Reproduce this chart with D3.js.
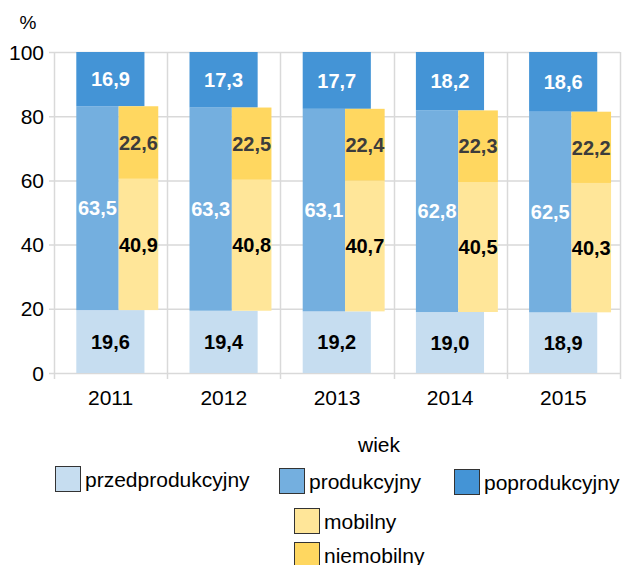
<!DOCTYPE html>
<html>
<head>
<meta charset="utf-8">
<script src="https://cdn.jsdelivr.net/npm/d3@7"></script>
<style>
    body { margin: 0; background: #fff; }
    text { font-family: "Liberation Sans", Arial, sans-serif; }
</style>
</head>
<body>
<div id="chart"></div>
<script>
"use strict";
(function () {
    // data
    const years = ["2011", "2012", "2013", "2014", "2015"]
    const przedprodukcyjny = [19.6, 19.4, 19.2, 19.0, 18.9]
    const produkcyjny = [63.5, 63.3, 63.1, 62.8, 62.5]
    const poprodukcyjny = [16.9, 17.3, 17.7, 18.2, 18.6]
    const mobilny = [40.9, 40.8, 40.7, 40.5, 40.3]
    const niemobilny = [22.6, 22.5, 22.4, 22.3, 22.2]
    const yTicks = [0, 20, 40, 60, 80, 100]

    const colors = {
        przed: "#c6ddf0",
        prod: "#74afdf",
        poprod: "#4494d6",
        mob: "#ffe699",
        niemob: "#ffd760"
    }

    const measurements = { width: 622, height: 565, left: 54, right: 620, top: 52, bottom: 373 }

    const svg = d3.select("#chart").append("svg")
        .attr("width", measurements.width)
        .attr("height", measurements.height)

    const scaleX = d3.scaleBand()
        .domain(years)
        .range([measurements.left, measurements.right])
        .padding(0)

    const scaleY = d3.scaleLinear()
        .domain([0, 100])
        .range([measurements.bottom, measurements.top])

    // gridlines
    svg.append("g")
        .selectAll("line")
        .data(yTicks)
        .enter()
        .append("line")
        .attr("x1", measurements.left - 5)
        .attr("x2", measurements.right)
        .attr("y1", d => scaleY(d) + 0.5)
        .attr("y2", d => scaleY(d) + 0.5)
        .attr("stroke", "#d9d9d9")
        .attr("stroke-width", 1.5)

    const bounds = years.map(y => scaleX(y)).concat([measurements.right])
    svg.append("g")
        .selectAll("line")
        .data(bounds)
        .enter()
        .append("line")
        .attr("x1", d => Math.round(d) + 0.5)
        .attr("x2", d => Math.round(d) + 0.5)
        .attr("y1", measurements.top)
        .attr("y2", measurements.bottom + 6)
        .attr("stroke", "#d9d9d9")
        .attr("stroke-width", 1.5)

    // bar pieces as fractions of the band
    const bw = scaleX.bandwidth()
    const outer = [0.197, 0.799]
    const inner = [0.197, 0.571]
    const side = [0.571, 0.921]

    const rows = years.map((y, i) => ({
        year: y,
        przed: przedprodukcyjny[i],
        prod: produkcyjny[i],
        poprod: poprodukcyjny[i],
        mob: mobilny[i],
        niemob: niemobilny[i]
    }))

    function addRect(d, from, to, part, color) {
        svg.append("rect")
            .attr("x", scaleX(d.year) + part[0] * bw)
            .attr("width", (part[1] - part[0]) * bw)
            .attr("y", scaleY(to))
            .attr("height", scaleY(from) - scaleY(to))
            .attr("fill", color)
    }

    function addLabel(d, from, to, part, color) {
        svg.append("text")
            .attr("x", scaleX(d.year) + (part[0] + part[1]) / 2 * bw)
            .attr("y", scaleY((from + to) / 2))
            .attr("dy", "0.36em")
            .attr("text-anchor", "middle")
            .style("font-size", "20px")
            .style("font-weight", "bold")
            .attr("fill", color)
            .text(d3.format(".1f")(to - from).replace(".", ","))
    }

    rows.forEach(d => {
        const a = d.przed
        const b = a + d.prod
        addRect(d, 0, a, outer, colors.przed)
        addRect(d, a, b, inner, colors.prod)
        addRect(d, b, 100, outer, colors.poprod)
        addRect(d, a, a + d.mob, side, colors.mob)
        addRect(d, a + d.mob, a + d.mob + d.niemob, side, colors.niemob)
    })
    rows.forEach(d => {
        const a = d.przed
        const b = a + d.prod
        addLabel(d, 0, d.przed, outer, "#000")
        addLabel(d, a, b, inner, "#fff")
        addLabel(d, b, b + d.poprod, outer, "#fff")
        addLabel(d, a, a + d.mob, side, "#000")
        addLabel(d, a + d.mob, a + d.mob + d.niemob, side, "#3c3c3c")
    })

    // y axis
    svg.append("g")
        .selectAll("text")
        .data(yTicks)
        .enter()
        .append("text")
        .attr("x", 44)
        .attr("y", d => scaleY(d))
        .attr("dy", "0.36em")
        .attr("text-anchor", "end")
        .style("font-size", "21px")
        .text(d => d)

    svg.append("text")
        .attr("x", 28)
        .attr("y", 29)
        .attr("text-anchor", "middle")
        .style("font-size", "19px")
        .text("%")

    // x axis labels
    svg.append("g")
        .selectAll("text")
        .data(years)
        .enter()
        .append("text")
        .attr("x", d => scaleX(d) + bw / 2)
        .attr("y", 405)
        .attr("text-anchor", "middle")
        .style("font-size", "21px")
        .text(d => d)

    // legend
    svg.append("text")
        .attr("x", 379)
        .attr("y", 452)
        .attr("text-anchor", "middle")
        .style("font-size", "21px")
        .text("wiek")

    const legend = [
        { name: "przedprodukcyjny", color: colors.przed, x: 55, y: 466 },
        { name: "produkcyjny", color: colors.prod, x: 279, y: 468 },
        { name: "poprodukcyjny", color: colors.poprod, x: 454, y: 469 },
        { name: "mobilny", color: colors.mob, x: 294, y: 508 },
        { name: "niemobilny", color: colors.niemob, x: 294, y: 542 }
    ]
    legend.forEach(l => {
        svg.append("rect")
            .attr("x", l.x + 0.5)
            .attr("y", l.y + 0.5)
            .attr("width", 25)
            .attr("height", 25)
            .attr("fill", l.color)
            .attr("stroke", "#333")
            .attr("stroke-width", 1)
        svg.append("text")
            .attr("x", l.x + 30)
            .attr("y", l.y + 21)
            .style("font-size", "21px")
            .text(l.name)
    })
})()
</script>
</body>
</html>
